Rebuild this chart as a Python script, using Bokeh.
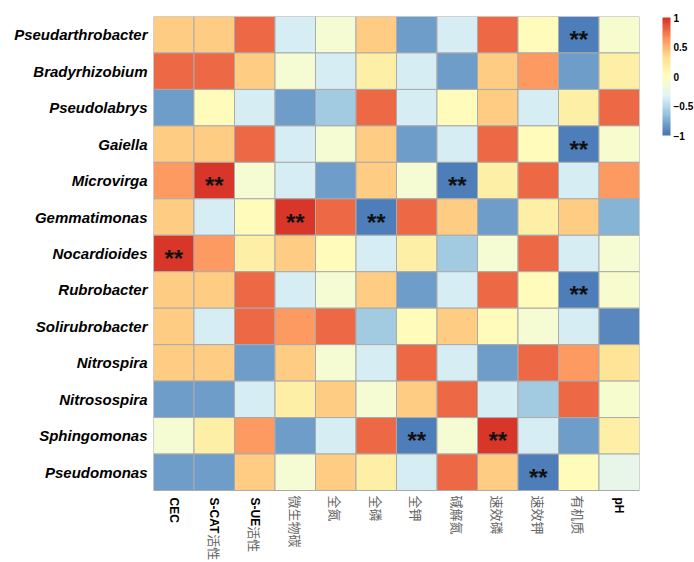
import math
import re
from bokeh.plotting import figure
from bokeh.models import (ColumnDataSource, LinearColorMapper, ColorBar, FixedTicker, Range1d)
from bokeh.core.properties import value
from bokeh.embed import file_html
from bokeh.resources import INLINE

genera = ["Pseudarthrobacter", "Bradyrhizobium", "Pseudolabrys", "Gaiella", "Microvirga",
          "Gemmatimonas", "Nocardioides", "Rubrobacter", "Solirubrobacter", "Nitrospira",
          "Nitrosospira", "Sphingomonas", "Pseudomonas"]
variables = ["CEC", "S-CAT活性", "S-UE活性", "微生物碳", "全氮", "全磷", "全钾",
             "碱解氮", "速效磷", "速效钾", "有机质", "pH"]

corr = [
    [0.40, 0.40, 0.78, -0.38, -0.12, 0.40, -0.80, -0.38, 0.78, 0.03, -0.96, -0.10],
    [0.78, 0.78, 0.40, -0.12, -0.38, 0.18, -0.38, -0.80, 0.40, 0.60, -0.80, 0.18],
    [-0.80, 0.03, -0.38, -0.80, -0.60, 0.78, -0.38, 0.03, 0.40, -0.38, 0.18, 0.78],
    [0.40, 0.40, 0.78, -0.38, -0.12, 0.40, -0.80, -0.38, 0.78, 0.03, -0.96, -0.10],
    [0.60, 0.96, -0.12, -0.38, -0.80, 0.40, -0.12, -0.96, 0.18, 0.78, -0.38, 0.60],
    [0.40, -0.38, 0.03, 0.96, 0.78, -0.96, 0.78, 0.40, -0.80, 0.18, 0.40, -0.72],
    [0.96, 0.60, 0.18, 0.40, 0.03, -0.38, 0.18, -0.60, -0.12, 0.78, -0.38, -0.12],
    [0.40, 0.40, 0.78, -0.38, -0.12, 0.40, -0.80, -0.38, 0.78, 0.03, -0.96, -0.10],
    [0.40, -0.38, 0.78, 0.60, 0.78, -0.60, 0.03, 0.40, 0.03, -0.12, -0.38, -0.90],
    [0.40, 0.40, -0.80, 0.40, -0.12, -0.38, 0.78, -0.38, -0.80, 0.78, 0.60, 0.28],
    [-0.80, -0.80, -0.38, 0.18, 0.40, -0.12, 0.40, 0.78, -0.38, -0.60, 0.78, -0.10],
    [-0.12, 0.18, 0.60, -0.80, -0.38, 0.78, -0.96, -0.12, 0.96, -0.38, -0.80, 0.18],
    [-0.80, -0.80, 0.40, -0.12, 0.40, 0.18, -0.38, 0.78, 0.40, -0.96, 0.03, -0.25],
]

# significant cells (genus index, variable index) marked "**"
sig_rows = [0, 3, 4, 4, 5, 5, 6, 7, 11, 11, 12]
sig_cols = [10, 10, 1, 7, 3, 5, 0, 10, 6, 8, 9]

cbar_ticks = [-1, -0.5, 0, 0.5, 1]
cbar_labels = {"-1": "\u22121", "-0.5": "\u22120.5", "0": "0", "0.5": "0.5", "1": "1"}

# palette: RdYlBu (7 colours) interpolated to 100 steps
anchors = ["#4575B4", "#91BFDB", "#E0F3F8", "#FFFFBF", "#FEE090", "#FC8D59", "#D73027"]
def hex2rgb(h):
    return tuple(int(h[i:i + 2], 16) for i in (1, 3, 5))
palette = []
n = 100
for k in range(n):
    t = k / (n - 1) * (len(anchors) - 1)
    i = min(int(t), len(anchors) - 2)
    f = t - i
    a, b = hex2rgb(anchors[i]), hex2rgb(anchors[i + 1])
    c = tuple(round(a[j] + (b[j] - a[j]) * f) for j in range(3))
    palette.append("#%02x%02x%02x" % c)

mapper = LinearColorMapper(palette=palette, low=-1, high=1)

nrow, ncol = len(genera), len(variables)
xs, ys, vals = [], [], []
for r in range(nrow):
    for c in range(ncol):
        xs.append(c + 0.5)
        ys.append(nrow - r - 0.5)
        vals.append(corr[r][c])
src = ColumnDataSource(dict(x=xs, y=ys, val=vals))
star_src = ColumnDataSource(dict(x=[c + 0.5 for c in sig_cols],
                                 y=[nrow - r - 0.5 for r in sig_rows],
                                 t=["**"] * len(sig_rows)))

heat_h = 474            # pixel height of the heatmap block
label_h = 72            # pixel room for column labels inside the frame
unit = heat_h / nrow
p = figure(x_range=Range1d(0, ncol), y_range=Range1d(-label_h / unit, nrow),
           frame_width=486, frame_height=heat_h + label_h,
           output_backend="svg", toolbar_location=None,
           min_border_left=153, min_border_top=16, min_border_right=55, min_border_bottom=0)

p.rect(x="x", y="y", width=1, height=1, source=src,
       fill_color={"field": "val", "transform": mapper},
       line_color="#ABABAB", line_width=1)
p.text(x="x", y="y", text="t", source=star_src, text_align="center", text_baseline="middle",
       text_font=value("Liberation Sans"), text_font_size="24px", text_font_style="bold",
       text_color="#111111", y_offset=5)

p.xgrid.visible = False
p.ygrid.visible = False
p.outline_line_color = None
p.xaxis.visible = False
p.yaxis.ticker = FixedTicker(ticks=[nrow - r - 0.5 for r in range(nrow)])
p.yaxis.major_label_overrides = {nrow - r - 0.5: g for r, g in enumerate(genera)}
p.yaxis.axis_line_color = None
p.yaxis.major_tick_line_color = None
p.yaxis.minor_tick_line_color = None
p.yaxis.major_tick_out = 0
p.yaxis.major_tick_in = 0
p.yaxis.minor_tick_out = 0
p.yaxis.major_label_standoff = 6
p.yaxis.major_label_text_font = "Liberation Sans"
p.yaxis.major_label_text_font_style = "bold italic"
p.yaxis.major_label_text_font_size = "15px"
p.yaxis.major_label_text_color = "#000000"

# column labels: bold latin part + light CJK part, rotated to read downwards
w_em = {"S": .667, "-": .333, "C": .722, "A": .722, "T": .611, "U": .722, "E": .667,
        "p": .611, "H": .722}
lat_x, lat_t, lat_off, cjk_x, cjk_t, cjk_off = [], [], [], [], [], []
for i, v in enumerate(variables):
    m = re.match(r"^([A-Za-z\-]*)(.*)$", v)
    lat, cjk = m.group(1), m.group(2)
    off = 7
    if lat:
        lat_x.append(i + 0.5); lat_t.append(lat); lat_off.append(off)
        off += sum(w_em.get(ch, .6) for ch in lat) * 12
    else:
        off = 5
    if cjk:
        cjk_x.append(i + 0.5); cjk_t.append(cjk); cjk_off.append(off)

p.text(x="x", y=0, text="t", y_offset="o", angle=-math.pi / 2,
       source=ColumnDataSource(dict(x=lat_x, t=lat_t, o=lat_off)),
       text_align="left", text_baseline="middle", text_font=value("Liberation Sans"),
       text_font_style="bold", text_font_size="12px", text_color="#000000")
p.text(x="x", y=0, text="t", y_offset="o", angle=-math.pi / 2,
       source=ColumnDataSource(dict(x=cjk_x, t=cjk_t, o=cjk_off)),
       text_align="left", text_baseline="middle", text_font=value("Noto Sans CJK SC"),
       text_font_size="13px", text_color="#666666")

cbar = ColorBar(color_mapper=mapper, width=8, height=118,
                location=(509, heat_h + label_h - 1 - 118),
                ticker=FixedTicker(ticks=cbar_ticks), major_label_overrides=cbar_labels,
                major_tick_line_color=None, minor_tick_line_color=None,
                major_tick_out=0, major_tick_in=0,
                bar_line_color=None, border_line_color=None, background_fill_color=None,
                padding=0, label_standoff=3,
                major_label_text_font="Liberation Sans", major_label_text_font_style="bold",
                major_label_text_font_size="10px", major_label_text_color="#000000")
p.add_layout(cbar, "center")

open("out.html", "w").write(file_html(p, INLINE))
